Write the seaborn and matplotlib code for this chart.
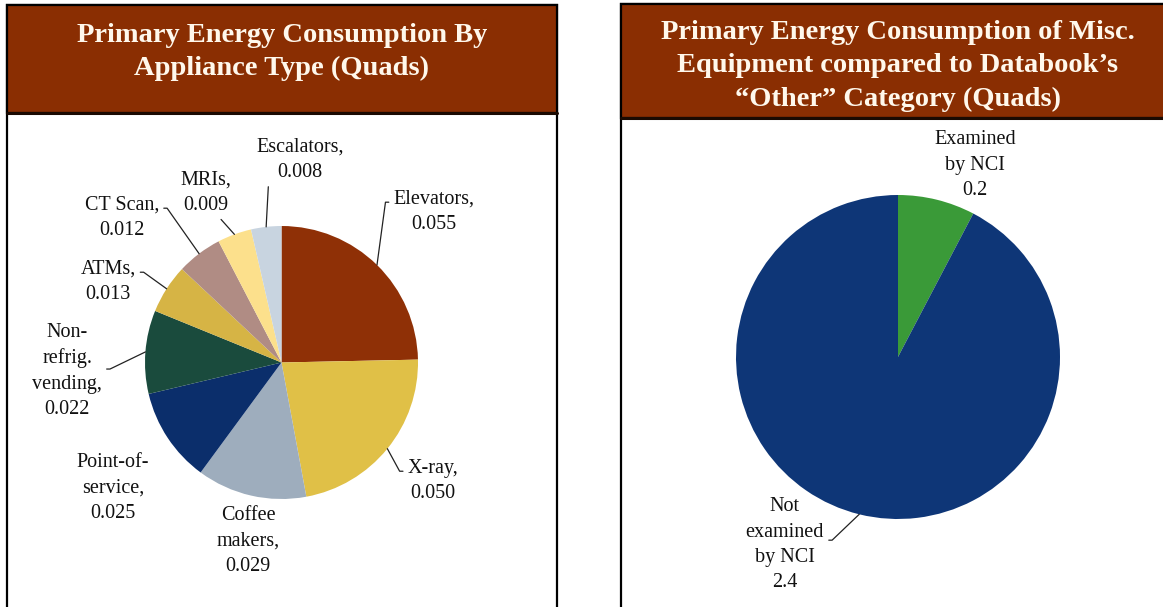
import matplotlib
matplotlib.use("Agg")
import matplotlib.pyplot as plt
import seaborn as sns
import numpy as np
from matplotlib.patches import Rectangle

# ---- data -------------------------------------------------------------
appliances = ["Elevators", "X-ray", "Coffee\nmakers", "Point-of-\nservice",
              "Non-\nrefrig.\nvending", "ATMs", "CT Scan", "MRIs", "Escalators"]
appliance_quads = [0.055, 0.050, 0.029, 0.025, 0.022, 0.013, 0.012, 0.009, 0.008]

misc_groups = ["Examined\nby NCI", "Not\nexamined\nby NCI"]
misc_quads = [0.2, 2.4]

left_title = "Primary Energy Consumption By\nAppliance Type (Quads)"
right_title = ("Primary Energy Consumption of Misc.\n"
               "Equipment compared to Databook\u2019s\n"
               "\u201cOther\u201d Category (Quads)")

# ---- styling ----------------------------------------------------------
sns.set_theme(style="white")
plt.rcParams["font.family"] = ["Liberation Serif", "DejaVu Serif"]

appliance_colors = sns.color_palette(["#8F3006", "#E0C047", "#9EADBD", "#0B2E6B",
                                      "#1A4B3D", "#D6B445", "#B08C84", "#FCE08C",
                                      "#C8D4E0"])
misc_colors = sns.color_palette(["#3A9A38", "#0E3677"])
header_color = "#8A2E02"
LABEL_SIZE = 14.5
LABEL_SPACING = 1.45

W, H = 1163, 607
fig = plt.figure(figsize=(W / 100, H / 100), dpi=100)

# background canvas in pixel units for panel frames and headers
bg = fig.add_axes([0, 0, 1, 1])
bg.set_xlim(0, W)
bg.set_ylim(H, 0)
bg.axis("off")


def panel(x0, x1, y_top, y_head, title, title_y):
    bg.add_patch(Rectangle((x0, y_top), x1 - x0, H + 20 - y_top, facecolor="white",
                           edgecolor="black", linewidth=1.6, zorder=1))
    bg.add_patch(Rectangle((x0, y_top), x1 - x0, y_head - y_top, facecolor=header_color,
                           edgecolor="black", linewidth=1.6, zorder=2))
    bg.plot([x0, x1], [y_head, y_head], color="#1a0a02", lw=2.2, zorder=3)
    bg.text((x0 + x1) / 2, title_y, title, ha="center", va="center", color="#FFF8EC",
            fontsize=20.5, fontweight="bold", linespacing=1.45, zorder=4)


panel(7, 557, 5, 113, left_title, 52)
panel(621, 1175, 4, 118, right_title, 66)


def pie_axes(cx, cy, r):
    ax = fig.add_axes([(cx - r) / W, (H - cy - r) / H, 2 * r / W, 2 * r / H])
    ax.set_xlim(-1, 1)
    ax.set_ylim(-1, 1)
    ax.axis("off")
    return ax


def draw_labels(ax, wedges, texts, positions, leaders):
    for w, txt, pos, leader in zip(wedges, texts, positions, leaders):
        if leader is None:
            ax.text(pos[0], pos[1], txt, ha="center", va="center", fontsize=LABEL_SIZE,
                    linespacing=LABEL_SPACING, color="#111111")
            continue
        mid = np.deg2rad((w.theta1 + w.theta2) / 2)
        anchor = (np.cos(mid), np.sin(mid))
        relpos, conn = leader
        ax.annotate(txt, xy=anchor, xytext=pos, ha="center", va="center",
                    fontsize=LABEL_SIZE, linespacing=LABEL_SPACING, color="#111111",
                    annotation_clip=False,
                    arrowprops=dict(arrowstyle="-", color="#222222", lw=0.9,
                                    shrinkA=1, shrinkB=0, relpos=relpos,
                                    connectionstyle=conn))


# ---- left pie ---------------------------------------------------------
ax1 = pie_axes(281.5, 362.5, 136.5)
wedges1, _ = ax1.pie(appliance_quads, colors=appliance_colors, startangle=90,
                     counterclock=False, radius=1, wedgeprops=dict(linewidth=0))
ax1.set_xlim(-1, 1)
ax1.set_ylim(-1, 1)
left_texts = [f"{n},\n{v:.3f}" for n, v in zip(appliances, appliance_quads)]
left_pos = [(1.117, 1.103), (1.11, -0.868), (-0.245, -1.308), (-1.234, -0.919),
            (-1.571, -0.062), (-1.271, 0.590), (-1.169, 1.059), (-0.553, 1.242),
            (0.136, 1.484)]
elbow_left = "arc,angleA=180,armA=8,angleB=0,armB=0,rad=0"
elbow_right = "arc,angleA=0,armA=8,angleB=0,armB=0,rad=0"
left_leaders = [((0, 0.72), elbow_left), ((0, 0.72), elbow_left), None, None,
                ((1, 0.52), elbow_right), ((1, 0.72), elbow_right),
                ((1, 0.72), elbow_right), ((0.72, 0), "arc3"), ((0.14, 0), "arc3")]
draw_labels(ax1, wedges1, left_texts, left_pos, left_leaders)

# ---- right pie --------------------------------------------------------
ax2 = pie_axes(898, 357, 162)
wedges2, _ = ax2.pie(misc_quads, colors=misc_colors, startangle=90,
                     counterclock=False, radius=1, wedgeprops=dict(linewidth=0))
ax2.set_xlim(-1, 1)
ax2.set_ylim(-1, 1)
right_texts = [f"{n}\n{v:.1f}" for n, v in zip(misc_groups, misc_quads)]
right_pos = [(0.475, 1.185), (-0.698, -1.160)]
right_leaders = [None, ((1, 0.55), elbow_right)]
draw_labels(ax2, wedges2, right_texts, right_pos, right_leaders)

fig.savefig("out.png", dpi=100)
